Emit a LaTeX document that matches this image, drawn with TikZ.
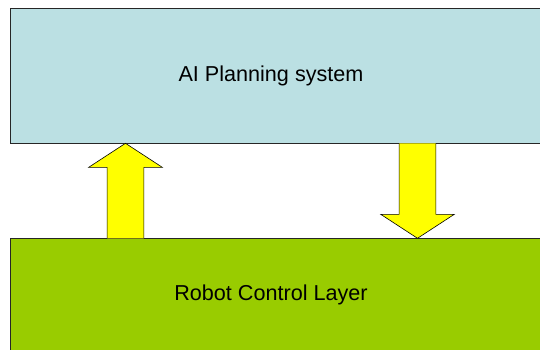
\documentclass[tikz,border=0pt]{standalone}
\usepackage{fontspec}
\setmainfont{Liberation Sans}
\usetikzlibrary{calc}
\definecolor{planblue}{RGB}{187,224,227}
\definecolor{robotgreen}{RGB}{153,204,0}
\definecolor{flowyellow}{RGB}{255,255,0}
\tikzset{
  layerbox/.style={draw=black!85, line width=0.8pt, inner sep=0pt, anchor=north west},
  layertext/.style={font=\fontsize{21.6}{26}\selectfont, text=black},
  flowarrow/.style={draw=black, line width=0.6pt, fill=flowyellow, line join=miter}
}
\begin{document}
\begin{tikzpicture}[x=1pt,y=-1pt]
\useasboundingbox (0,0) rectangle (540,349);
\clip (0,0) rectangle (540,349);
% layers
\node[layerbox, fill=planblue, minimum width=531pt, minimum height=135pt] (plan) at (10,7.5){};
\node[layerbox, fill=robotgreen, minimum width=531pt, minimum height=130pt] (robot) at (10,238.3){};
\node[layertext] (plantext) at (271,76){AI Planning system};
\node[layertext] (robottext) at (271,295){Robot Control Layer};
% up arrow: robot -> plan
\coordinate (uptip) at ($(plan.south west)+(115.5,0)$);
\coordinate (upbase) at (uptip |- robot.north);
\draw[flowarrow] ($(upbase)+(-18.4,0)$) -- ($(uptip)+(-18.4,24)$) -- ($(uptip)+(-36.8,24)$)
  -- (uptip) -- ($(uptip)+(36.8,24)$) -- ($(uptip)+(18.4,24)$) -- ($(upbase)+(18.4,0)$);
% down arrow: plan -> robot
\coordinate (downtip) at ($(robot.north west)+(407.5,0)$);
\coordinate (downbase) at (downtip |- plan.south);
\draw[flowarrow] ($(downbase)+(-18.4,0)$) -- ($(downtip)+(-18.4,-24)$) -- ($(downtip)+(-36.8,-24)$)
  -- (downtip) -- ($(downtip)+(36.8,-24)$) -- ($(downtip)+(18.4,-24)$) -- ($(downbase)+(18.4,0)$);
\end{tikzpicture}
\end{document}
